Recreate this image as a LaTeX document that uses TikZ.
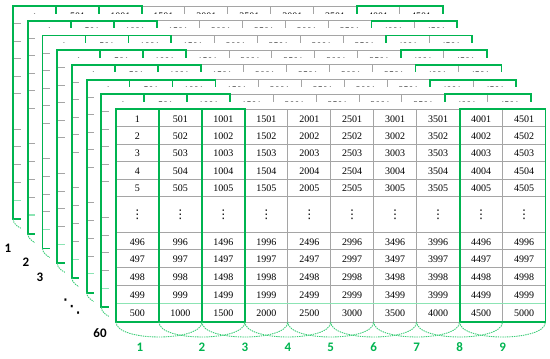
\documentclass[tikz,border=0pt]{standalone}
\usepackage{fontspec}
\setmainfont{Liberation Serif}
\newfontfamily\lblfont{Carlito}
\newfontfamily\symfont{DejaVu Sans}

\definecolor{grpgreen}{RGB}{0,180,80}
\definecolor{gridgray}{RGB}{165,165,165}
\definecolor{cutgreen}{RGB}{140,228,180}
\definecolor{arcgreen}{RGB}{60,205,120}

\def\colw{42.95}
\def\tabw{429.5}
\def\tabh{213}

\begin{document}
\begin{tikzpicture}[
  x=1pt, y=-1pt,
  gridline/.style={draw=gridgray, line width=1pt},
  cutline/.style={draw=cutgreen, line width=1.2pt},
  grpline/.style={draw=grpgreen, line width=1.8pt},
  winarc/.style={draw=arcgreen, line width=0.9pt, dash pattern=on 1.4pt off 0.9pt},
  cellnum/.style={inner sep=0pt, font=\fontsize{10}{12}\selectfont},
  celldots/.style={inner sep=0pt, font=\symfont\fontsize{12}{14}\selectfont},
  winlabel/.style={inner sep=0pt, text=grpgreen, font=\lblfont\bfseries\fontsize{13}{15}\selectfont},
  sheetlabel/.style={inner sep=0pt, font=\lblfont\bfseries\fontsize{13}{15}\selectfont},
]
\useasboundingbox (0,0) rectangle (550,359);

% sheets, back to front
\foreach \k in {7,...,0} {
  \begin{scope}[shift={({116-14.7*\k},{109-14.7*\k})}]
    \fill[white] (-7.3,-7.3) rectangle (\tabw,\tabh+2);
    % grid
    \foreach \c in {0,...,10}
      \draw[gridline] ({\c*\colw},0) -- ({\c*\colw},\tabh);
    \foreach \ry in {0,17.5,35,52.5,70,87.5,123,140.8,158.6,176.4,213}
      \draw[gridline] (0,\ry) -- (\tabw,\ry);
    \draw[cutline] (0,194.2) -- (\tabw,194.2);
    % green column groups
    \draw[grpline] (0,0) rectangle ({3*\colw},\tabh);
    \draw[grpline] (\colw,0) -- (\colw,\tabh);
    \draw[grpline] ({2*\colw},0) -- ({2*\colw},\tabh);
    \draw[grpline] ({8*\colw},0) rectangle (\tabw,\tabh);
    % numbers
    \ifnum\k=0
      \def\rowlist{1/10.2,2/27.2,3/44.7,4/62.2,5/79.7,496/132.8,497/150.6,498/168.4,499/186.2,500/204.4}
      \def\arclast{8}
    \else
      \def\rowlist{1/10.6}
      \def\arclast{0}
    \fi
    \foreach \n/\ry in \rowlist
      \foreach \c in {0,...,9} {
        \pgfmathtruncatemacro\val{\c*500+\n}
        \node[cellnum] (v\k-\n-\c) at ({(\c+0.5)*\colw},\ry) {\val};
      }
    \ifnum\k=0
      \foreach \c in {0,...,9}
        \node[celldots] (dots-\c) at ({(\c+0.5)*\colw},105.5) {⋮};
    \fi
    % sliding windows
    \foreach \c in {0,...,\arclast}
      \draw[winarc] ({\c*\colw},\tabh) .. controls ({\c*\colw},\tabh+20) and ({(\c+2)*\colw},\tabh+20) .. ({(\c+2)*\colw},\tabh);
  \end{scope}
}

% window numbers
\begin{scope}[shift={(116,109)}]
  \foreach \i/\lx in {1/24,2/85.9,3/128.85,4/171.8,5/214.75,6/257.7,7/300.65,8/343.6,9/386.55}
    \node[winlabel] (win\i) at (\lx,238) {\i};
\end{scope}

% sheet numbers
\node[sheetlabel] (sh1) at (8,248) {1};
\node[sheetlabel] (sh2) at (26,262) {2};
\node[sheetlabel] (sh3) at (40,277) {3};
\node[inner sep=0pt, font=\symfont\fontsize{19}{21}\selectfont] (shdots) at (72,307) {⋱};
\node[sheetlabel] (sh60) at (100,333) {60};

\end{tikzpicture}
\end{document}
